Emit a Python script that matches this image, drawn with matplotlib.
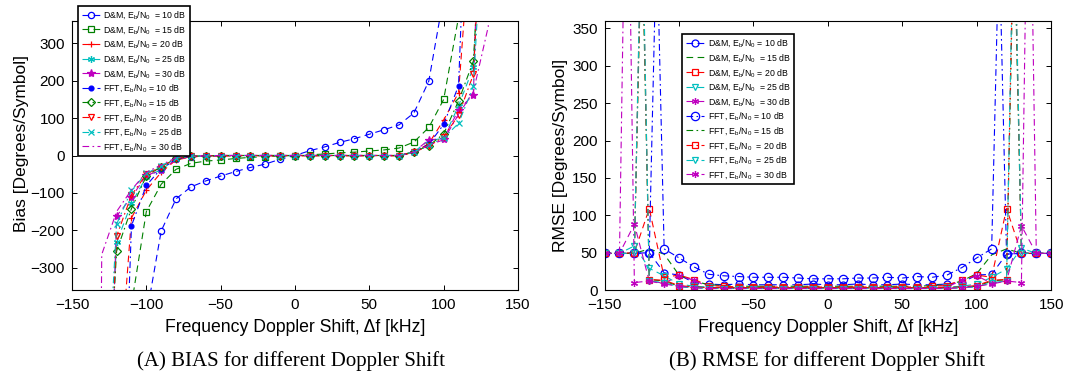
import numpy as np
import matplotlib
matplotlib.use("Agg")
import matplotlib.pyplot as plt

nan = np.nan

# ---------------- (A) bias [deg/symbol] vs Doppler shift [kHz] ----------------
# values beyond +-360 are off the axes, they only set where the curve leaves the plot
bias_x = [-140, -130, -120, -110, -100, -90, -80, -70, -60, -50, -40, -30, -20, -10, 0,
          10, 20, 30, 40, 50, 60, 70, 80, 90, 100, 110, 120, 130, 140]

bias_dm10 = [nan, nan, nan, nan, -430, -202, -116, -84, -68, -55, -43, -32, -23, -10, 0,
             13, 23, 35, 45, 57, 69, 82, 114, 199, 425, nan, nan, nan, nan]
bias_dm15 = [nan, nan, nan, -400, -150, -77, -37, -21, -15, -12, -8, -5, -3, -1, 0,
             2, 4, 7, 9, 12, 15, 20, 36, 75, 150, 370, nan, nan, nan]
bias_dm20 = [nan, nan, -700, -167, -93, -45, -12, -4, -2, -2, -1, -1, -1, -1, -1,
             -1, -1, -1, -1, -1, -1, -1, 8, 32, 95, 168, 700, nan, nan]
bias_dm25 = [nan, -1000, -232, -128, -57, -38, -9, -2, -1, 0, 0, 0, 0, 0, 0,
             0, 0, 0, 0, 0, 0, 0, 10, 40, 46, 133, 236, 1000, nan]
bias_dm30 = [nan, -1500, -162, -112, -53, -40, -10, -3, -1, 0, 0, 0, 0, 0, 0,
             0, 0, 0, 0, 0, 0, 0, 10, 42, 45, 122, 163, 1500, nan]
bias_fft10 = [nan, nan, -1300, -188, -80, -35, -10, -3, -1, 0, 0, 0, 0, 0, 0,
              0, 0, 0, 0, 0, 0, 0, 9, 30, 83, 187, 1200, nan, nan]
bias_fft15 = [nan, -950, -256, -142, -55, -30, -8, -2, -1, 0, 0, 0, 0, 0, 0,
              0, 0, 0, 0, 0, 0, 0, 10, 26, 58, 146, 253, 950, nan]
bias_fft20 = [nan, -1000, -216, -106, -50, -30, -8, -2, -1, 0, 0, 0, 0, 0, 0,
              0, 0, 0, 0, 0, 0, 0, 9, 25, 50, 108, 217, 1000, nan]
bias_fft25 = [nan, -900, -184, -93, -48, -28, -7, -2, -1, 0, 0, 0, 0, 0, 0,
              0, 0, 0, 0, 0, 0, 0, 9, 27, 47, 86, 185, 900, nan]
bias_fft30 = [-5000, -265, -150, -92, -45, -25, -6, -2, -1, 0, 0, 0, 0, 0, 0,
              0, 0, 0, 0, 0, 0, 0, 9, 28, 42, 110, 171, 345, 5000]

# ---------------- (B) RMSE [deg/symbol] ----------------
# odd 5 kHz points only exist where a curve shoots off the top
rmse_x = [-150, -140, -135, -130, -125, -120, -115, -110, -100, -90, -80, -70, -60, -50,
          -40, -30, -20, -10, 0, 10, 20, 30, 40, 50, 60, 70, 80, 90, 100, 110,
          115, 120, 125, 130, 135, 140, 150]

rmse_dm10 = [49, 49, nan, 49, nan, 50, nan, 23, 20, 10, 8, 7, 8, 7,
             7, 7, 7, 8, 7, 7, 8, 7, 7, 8, 7, 7, 8, 10, 20, 21,
             nan, 48, nan, 49, nan, 49, 49]
rmse_dm15 = [49, 49, nan, 49, nan, 55, nan, 48, 20, 12, 7, 6, 5, 5,
             5, 5, 5, 5, 5, 5, 5, 5, 5, 5, 5, 6, 7, 12, 22, 47,
             nan, 55, nan, 49, nan, 49, 49]
rmse_dm20 = [49, 49, nan, 50, nan, 109, nan, 17, 20, 14, 6, 5, 4, 4,
             4, 4, 4, 4, 4, 4, 4, 4, 4, 4, 4, 5, 6, 14, 20, 17,
             nan, 109, nan, 49, nan, 49, 49]
rmse_dm25 = [49, 49, nan, 59, nan, 29, nan, 19, 8, 5, 4, 3, 3, 3,
             3, 3, 3, 3, 3, 3, 3, 3, 3, 3, 3, 3, 4, 5, 8, 17,
             nan, 28, nan, 56, nan, 49, 49]
rmse_dm30 = [49, 49, nan, 88, nan, 12, nan, 9, 19, 13, 4, 3, 2, 2,
             2, 2, 2, 2, 2, 2, 2, 2, 2, 2, 2, 3, 4, 13, 19, 9,
             nan, 12, nan, 86, nan, 49, 49]
rmse_fft10 = [49, 49, nan, 49, nan, 50, 480, 55, 43, 31, 21, 19, 18, 17,
              17, 17, 16, 15, 15, 15, 16, 16, 17, 16, 18, 17, 20, 30, 43, 55,
              470, 48, nan, 49, nan, 49, 49]
rmse_fft15 = [49, 49, nan, 49, 493, 14, nan, 12, 5, 4, 3, 3, 3, 3,
              3, 3, 3, 3, 3, 3, 3, 3, 3, 3, 3, 3, 3, 4, 5, 12,
              nan, 14, 493, 49, nan, 49, 49]
rmse_fft20 = [49, 49, nan, 49, 520, 14, nan, 13, 6, 4, 3, 3, 3, 3,
              3, 3, 3, 3, 3, 3, 3, 3, 3, 3, 3, 3, 3, 4, 6, 13,
              nan, 14, 520, 49, nan, 49, 49]
rmse_fft25 = [49, 49, nan, 49, 540, 12, nan, 10, 4, 3, 2, 2, 2, 2,
              2, 2, 2, 2, 2, 2, 2, 2, 2, 2, 2, 2, 2, 3, 4, 10,
              nan, 12, 540, 49, nan, 49, 49]
rmse_fft30 = [49, 49, 700, 10, nan, 12, nan, 8, 5, 3, 2, 2, 2, 2,
              2, 2, 2, 2, 2, 2, 2, 2, 2, 2, 2, 2, 2, 3, 5, 8,
              nan, 12, nan, 10, 700, 49, 49]

snr_db = [10, 15, 20, 25, 30]

# matlab-ish colours
BLUE = (0, 0, 1)
GREEN = (0, 0.5, 0)
RED = (1, 0, 0)
CYAN = (0, 0.75, 0.75)
MAGENTA = (0.75, 0, 0.75)
ASTER = (6, 2, 0)

DASH = (6, 4)
DASHDOT = (6, 3, 1.5, 3)

plt.rcParams['font.family'] = ['Liberation Sans', 'DejaVu Sans']
plt.rcParams['mathtext.fontset'] = 'custom'
plt.rcParams['mathtext.rm'] = 'Liberation Sans'


def label(method, snr, pad):
    return method + r', E$_\mathregular{b}$/N$_\mathregular{0}$' + pad + '= %d dB' % snr


def draw(ax, x, y, color, dashes, marker, ms, lab, filled=False):
    x = np.asarray(x, float)
    y = np.asarray(y, float)
    ok = ~np.isnan(y)
    x, y = x[ok], y[ok]
    marks = list(np.mod(x, 10) == 0)
    ax.plot(x, y, color=color, lw=0.8, dashes=dashes, marker=marker, ms=ms,
            markevery=marks, mfc=color if filled else 'none', mec=color, mew=0.9,
            label=lab)


def frame(ax):
    ax.set_xlim(-150, 150)
    ax.set_xticks([-150, -100, -50, 0, 50, 100, 150])
    ax.tick_params(direction='in', length=3.5, width=0.7, top=True, right=True,
                   labelsize=11)
    ax.tick_params(axis='x', pad=6)
    ax.tick_params(axis='y', pad=5)
    for s in ax.spines.values():
        s.set_linewidth(0.8)
    ax.set_xlabel('Frequency Doppler Shift, \u0394f [kHz]', fontsize=12.7, labelpad=5)


fig = plt.figure(figsize=(10.67, 3.72), dpi=100)
axA = fig.add_axes([72 / 1067, 1 - 290 / 372, 446 / 1067, 269 / 372])
axB = fig.add_axes([604.6 / 1067, 1 - 290 / 372, 446.6 / 1067, 269 / 372])

# ---- (A)
dm_bias = [bias_dm10, bias_dm15, bias_dm20, bias_dm25, bias_dm30]
fft_bias = [bias_fft10, bias_fft15, bias_fft20, bias_fft25, bias_fft30]
colors = [BLUE, GREEN, RED, CYAN, MAGENTA]
dm_mk_A = [('o', 4.5, False), ('s', 4, False), ('+', 5, False), (ASTER, 5, False), ('*', 6, True)]
fft_mk_A = [('o', 3.5, True), ('D', 4, False), ('v', 5, False), ('x', 4, False), (None, 0, False)]
pads_dm_A = ['  ', '  ', ' ', '  ', '  ']
pads_fft_A = [' ', ' ', '  ', '  ', '  ']

for i in range(5):
    m, ms, f = dm_mk_A[i]
    draw(axA, bias_x, dm_bias[i], colors[i], DASH, m, ms, label('D&M', snr_db[i], pads_dm_A[i]), f)
for i in range(5):
    m, ms, f = fft_mk_A[i]
    draw(axA, bias_x, fft_bias[i], colors[i], DASHDOT, m, ms, label('FFT', snr_db[i], pads_fft_A[i]), f)

frame(axA)
axA.set_ylim(-360, 360)
axA.set_yticks([-300, -200, -100, 0, 100, 200, 300])
axA.set_ylabel('Bias [Degrees/Symbol]', fontsize=12.5)
axA.yaxis.set_label_coords(-0.097, 0.545)

# ---- (B)
dm_rmse = [rmse_dm10, rmse_dm15, rmse_dm20, rmse_dm25, rmse_dm30]
fft_rmse = [rmse_fft10, rmse_fft15, rmse_fft20, rmse_fft25, rmse_fft30]
dm_mk_B = [('o', 5, False), (None, 0, False), ('s', 4.5, False), ('v', 5, False), (ASTER, 5, True)]
fft_mk_B = [('o', 6, False), (None, 0, False), ('s', 5, False), ('v', 5, False), (ASTER, 5, True)]
pads_dm_B = [' ', '  ', ' ', '  ', '  ']
pads_fft_B = [' ', ' ', '  ', '  ', '  ']

for i in range(5):
    m, ms, f = dm_mk_B[i]
    draw(axB, rmse_x, dm_rmse[i], colors[i], DASH, m, ms, label('D&M', snr_db[i], pads_dm_B[i]), f)
for i in range(5):
    m, ms, f = fft_mk_B[i]
    draw(axB, rmse_x, fft_rmse[i], colors[i], DASHDOT, m, ms, label('FFT', snr_db[i], pads_fft_B[i]), f)

frame(axB)
axB.set_ylim(0, 360)
axB.set_yticks([0, 50, 100, 150, 200, 250, 300, 350])
axB.set_ylabel('RMSE [Degrees/Symbol]', fontsize=12.5, labelpad=3)

legend_kw = dict(loc='upper left', bbox_transform=fig.transFigure, fontsize=6.3,
                 frameon=True, fancybox=False, edgecolor='black', framealpha=1,
                 handlelength=2.1, handletextpad=0.4, labelspacing=0.3,
                 borderpad=0.4, borderaxespad=0)
legA = axA.legend(bbox_to_anchor=(78 / 1067, 1 - 5.7 / 372), **legend_kw)
legB = axB.legend(bbox_to_anchor=(682.4 / 1067, 1 - 33.8 / 372), **legend_kw)
for leg in (legA, legB):
    leg.get_frame().set_linewidth(1.2)
    leg.set_zorder(10)

serif = ['Liberation Serif', 'DejaVu Serif']
fig.text(291 / 1067, 1 - 361 / 372, '(A) BIAS for different Doppler Shift',
         ha='center', va='center', fontsize=15, family=serif)
fig.text(827 / 1067, 1 - 361 / 372, '(B) RMSE for different Doppler Shift',
         ha='center', va='center', fontsize=15, family=serif)

fig.savefig('out.png', dpi=100)
